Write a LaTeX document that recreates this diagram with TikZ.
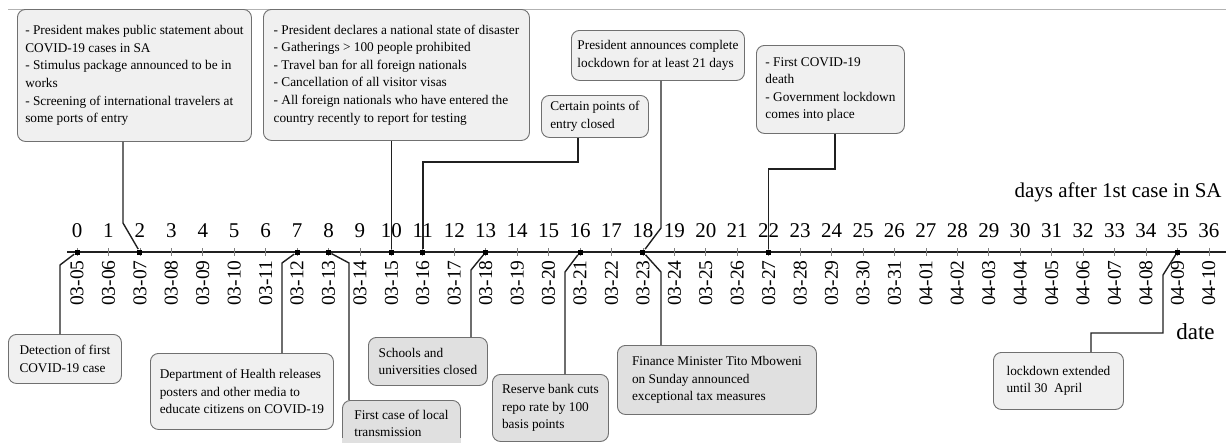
\documentclass[tikz,border=0pt]{standalone}
\usepackage{fontspec}
\setmainfont{Liberation Serif}
\definecolor{boxtop}{HTML}{F0F0F0}
\definecolor{boxlow}{HTML}{E0E0E0}
\definecolor{boxedge}{HTML}{707070}
\definecolor{linedark}{HTML}{202020}

\begin{document}
\begin{tikzpicture}[
    x=1pt, y=-1pt,
    event/.style={draw=boxedge, fill=boxtop, line width=0.9pt, rounded corners=8pt,
        align=left, anchor=north west, inner sep=0pt,
        font=\fontsize{13.3}{17.6}\selectfont},
    eventlow/.style={event, fill=boxlow},
    conn/.style={draw=linedark, line width=1.4pt},
    daymark/.style={fill=black, minimum size=5pt, inner sep=0pt},
    daynum/.style={font=\fontsize{21}{21}\selectfont, anchor=base, inner sep=0pt},
    datelab/.style={font=\fontsize{19.5}{19.5}\selectfont, rotate=90, anchor=east, inner sep=0pt},
    thick]
    \clip (0,0) rectangle (1231,442);
    % top rule
    \draw[gray!60, line width=0.8pt] (8,9) -- (1226,9);

    % AXIS
    \coordinate (axl) at (67,252);
    \coordinate (axr) at (1226,252);
    \draw[linedark, line width=1.3pt] (axl) -- (axr);
    \foreach \lab [count=\i from 0] in {03-05,03-06,03-07,03-08,03-09,03-10,03-11,03-12,
        03-13,03-14,03-15,03-16,03-17,03-18,03-19,03-20,03-21,03-22,03-23,03-24,03-25,
        03-26,03-27,03-28,03-29,03-30,03-31,04-01,04-02,04-03,04-04,04-05,04-06,04-07,
        04-08,04-09,04-10} {
      \coordinate (d\i) at (77+31.44*\i, 252);
      \draw[gray, line width=0.7pt] ([yshift=4pt]d\i) -- ([yshift=-4pt]d\i);
      \node[daynum] (n\i) at (77+31.44*\i, 237) {\i};
      \node[datelab] (l\i) at (77+31.44*\i, 260) {\lab};
    }
    \foreach \d in {0,2,7,8,10,11,13,16,18,22,35}
      \node[daymark] (m\d) at (d\d) {};
    \node[anchor=base east, font=\fontsize{21}{21}\selectfont, inner sep=0pt] (dayscap) at (1222,197) {days after 1st case in SA};
    \node[anchor=base east, font=\fontsize{23}{23}\selectfont, inner sep=0pt] (datecap) at (1215,339) {date};

    % NODES above the axis
    \node[event, minimum width=234, minimum height=132] (top1) at (17,9)
      {- President makes public statement about\\COVID-19 cases in SA\\- Stimulus package announced to be in\\works\\- Screening of international travelers at\\some ports of entry};
    \node[event, minimum width=266, minimum height=131] (top2) at (263,9)
      {- President declares a national state of disaster\\- Gatherings > 100 people prohibited\\- Travel ban for all foreign nationals\\- Cancellation of all visitor visas\\- All foreign nationals who have entered the\\country recently to report for testing};
    \node[event, minimum width=107, minimum height=42] (top3) at (541,95)
      {Certain points of\\entry closed};
    \node[event, minimum width=173, minimum height=50] (top4) at (571,30)
      {President announces complete\\lockdown for at least 21 days};
    \node[event, minimum width=148, minimum height=88] (top5) at (756,45)
      {- First COVID-19\\death\\- Government lockdown\\comes into place};

    % NODES below the axis
    \node[event, minimum width=113, minimum height=49] (low1) at (8,334)
      {Detection of first\\COVID-19 case};
    \node[event, minimum width=183, minimum height=76] (low2) at (150,353)
      {Department of Health releases\\posters and other media to\\educate citizens on COVID-19};
    \node[eventlow, minimum width=118, minimum height=46] (low3) at (342,400)
      {First case of local\\transmission};
    \draw[boxedge, fill=boxlow, line width=0.9pt] ([xshift=-0.45pt]low3.south west) rectangle ([xshift=0.45pt,yshift=-20pt]low3.south east);
    \fill[boxlow] ([yshift=8.5pt]low3.south west) rectangle ([yshift=-19pt]low3.south east);
    \node[eventlow, minimum width=119, minimum height=48] (low4) at (368,337)
      {Schools and\\universities closed};
    \node[eventlow, minimum width=116, minimum height=67] (low5) at (492,374)
      {Reserve bank cuts\\repo rate by 100\\basis points};
    \node[eventlow, minimum width=199, minimum height=69] (low6) at (617,345)
      {Finance Minister Tito Mboweni\\on Sunday announced\\exceptional tax measures};
    \node[event, minimum width=130, minimum height=57] (low7) at (993,352)
      {lockdown extended\\until 30~ April};

    % bends
    \coordinate (b1) at (123,223);
    \coordinate (b3) at (578,162);
    \coordinate (b4) at (661,228);
    \coordinate (b5) at (835,169);
    \coordinate (b6) at (60,265);
    \coordinate (b7) at (282,263);
    \coordinate (b8) at (349,263);
    \coordinate (b9) at (471,270);
    \coordinate (b10) at (565,272);
    \coordinate (b11) at (661,272);
    \coordinate (b12) at (1163,275);
    \coordinate (b12b) at (1091,333);

    % CONNECTORS
    \draw[conn] (top1.south -| b1) -- (b1) -- (m2);
    \draw[conn] (top2.south -| m10) -- (m10);
    \draw[conn] (top3.south -| b3) -- (b3) -| (m11);
    \draw[conn] (top4.south -| b4) -- (b4) -- (m18);
    \draw[conn] (top5.south -| b5) -- (b5) -| (m22);
    \draw[conn] (m0) -- (b6) -- (low1.north -| b6);
    \draw[conn] (m7) -- (b7) -- (low2.north -| b7);
    \draw[conn] (m8) -- (b8) -- (low3.north -| b8);
    \draw[conn] (m13) -- (b9) -- (low4.north -| b9);
    \draw[conn] (m16) -- (b10) -- (low5.north -| b10);
    \draw[conn] (m18) -- (b11) -- (low6.north -| b11);
    \draw[conn] (m35) -- (b12) |- (b12b) -- (low7.north -| b12b);
\end{tikzpicture}
\end{document}
